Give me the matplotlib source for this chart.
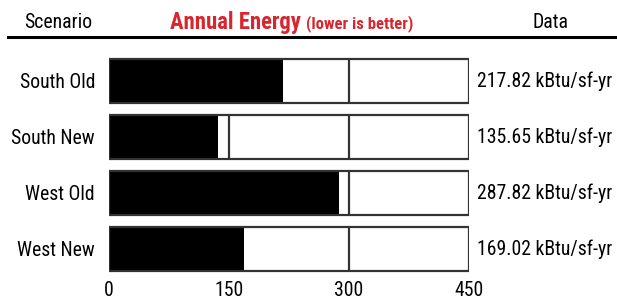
import matplotlib
matplotlib.use("Agg")
import matplotlib.pyplot as plt
from matplotlib import font_manager

scenarios = ["South Old", "South New", "West Old", "West New"]
energy = [217.82, 135.65, 287.82, 169.02]
unit = "kBtu/sf-yr"
xticks = [0, 150, 300, 450]
xmax = 450

names = {f.name for f in font_manager.fontManager.ttflist}
FONT = "DejaVu Sans"
for cand in ["Roboto Condensed", "Archivo Narrow", "PT Sans Narrow", "Pragati Narrow",
             "Barlow Semi Condensed", "Asap Condensed", "Liberation Sans Narrow"]:
    if cand in names:
        FONT = cand
        break
plt.rcParams["font.family"] = [FONT, "DejaVu Sans"]

W, H = 617, 301
fig = plt.figure(figsize=(W / 100, H / 100), dpi=100)

# axes: x 0..450 -> px 109..469 ; rows centered at ~81,137,193,249
left_px, right_px = 109, 469
top_px, bot_px = 53, 277
ax = fig.add_axes([left_px / W, 1 - bot_px / H, (right_px - left_px) / W, (bot_px - top_px) / H])
ax.set_xlim(0, xmax)
ax.set_ylim(len(scenarios) - 0.5, -0.5)
for s in ax.spines.values():
    s.set_visible(False)

bh = 0.77
ypos = list(range(len(scenarios)))
edge = "#333333"
ax.barh(ypos, [xmax] * len(scenarios), height=bh, color="white", edgecolor="none", zorder=1)
for y in ypos:
    for g in xticks[1:-1]:
        ax.vlines(g, y - bh / 2, y + bh / 2, color=edge, lw=1.6, zorder=1.5)
ax.barh(ypos, energy, height=bh, color="black", edgecolor="none", zorder=2)
ax.barh(ypos, [xmax] * len(scenarios), height=bh, color="none", edgecolor=edge, lw=1.6, zorder=4)

FS = 14.2
ax.set_yticks(ypos)
ax.set_yticklabels(scenarios, fontsize=FS)
ax.set_xticks(xticks)
ax.set_xticklabels([str(t) for t in xticks], fontsize=FS)
ax.tick_params(axis="both", length=0)
ax.tick_params(axis="y", pad=10)
ax.tick_params(axis="x", pad=3)

for y, v in zip(ypos, energy):
    ax.annotate(f"{v:.2f} {unit}", xy=(xmax, y), xytext=(5.5, 0), textcoords="offset points",
                ha="left", va="center", fontsize=FS, annotation_clip=False)

# header
hy = 1 - 22 / H
fig.text(58 / W, hy, "Scenario", ha="center", va="center", fontsize=FS)
fig.text(551 / W, hy, "Data", ha="center", va="center", fontsize=FS)
red = "#d7262e"
t1 = fig.text(170 / W, hy, "Annual Energy", ha="left", va="center", fontsize=16.3,
              fontweight="bold", color=red)
fig.canvas.draw()
bb = t1.get_window_extent()
fig.text((bb.x1 + 5) / W, hy - 0.006, "(lower is better)", ha="left", va="center",
         fontsize=12, fontweight="bold", color=red)
fig.add_artist(plt.Line2D([8 / W, 1], [1 - 37 / H] * 2, color="black", lw=2.2,
                          transform=fig.transFigure))

fig.savefig("out.png", dpi=100)
